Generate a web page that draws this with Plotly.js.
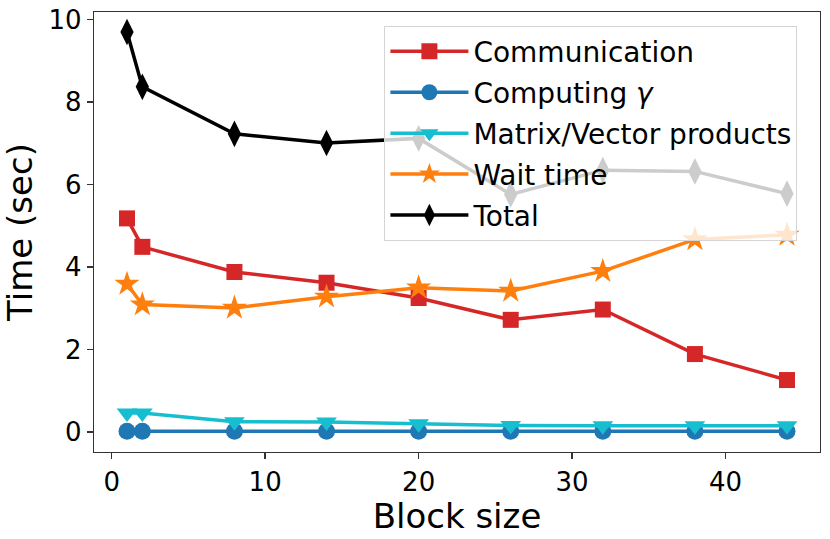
<!DOCTYPE html>
<html>
<head>
<meta charset="utf-8">
<script src="https://cdn.plot.ly/plotly-3.0.1.min.js"></script>
<style>html,body{margin:0;padding:0;background:#fff;}#chart{width:830px;height:539px;}</style>
</head>
<body>
<div id="chart"></div>
<script>
var blockSize = [1, 2, 8, 14, 20, 26, 32, 38, 44];
var communication = [5.18, 4.49, 3.88, 3.62, 3.25, 2.72, 2.97, 1.89, 1.26];
var computingGamma = [0.02, 0.02, 0.02, 0.02, 0.02, 0.02, 0.02, 0.02, 0.02];
var matVecProducts = [0.46, 0.46, 0.25, 0.24, 0.2, 0.16, 0.15, 0.15, 0.15];
var waitTime = [3.59, 3.09, 3.01, 3.28, 3.5, 3.42, 3.9, 4.67, 4.78];
var total = [9.7, 8.37, 7.23, 7.01, 7.12, 5.76, 6.35, 6.32, 5.78];
var xTicks = [0, 10, 20, 30, 40];
var yTicks = [0, 2, 4, 6, 8, 10];

function tr(name, y, color, symbol, size, grp) {
  return {
    x: blockSize, y: y, name: name, type: 'scatter', mode: 'lines+markers',
    legendgroup: grp,
    line: {color: color, width: 3.5},
    marker: {color: color, symbol: symbol, size: size, line: {width: 0}}
  };
}
var data = [
  tr('Communication', communication, '#d62728', 'square', 16, 'g1'),
  tr('Computing <i>γ</i>', computingGamma, '#1f77b4', 'circle', 17, 'g2'),
  tr('Matrix/Vector products', matVecProducts, '#17becf', 'triangle-down', 18, 'g3'),
  tr('Wait time', waitTime, '#ff7f0e', 'star', 19, 'g4'),
  tr('Total', total, '#000000', 'diamond-tall', 19, 'g5')
];
var axisCommon = {
  showgrid: false, zeroline: false, showline: true, mirror: true,
  linecolor: '#333', linewidth: 1.3, ticks: 'outside', ticklen: 6, tickwidth: 1.3,
  tickcolor: '#333', tickfont: {size: 26, color: '#000'}
};
var layout = {
  width: 830, height: 539,
  margin: {l: 94, r: 10, t: 12, b: 87},
  paper_bgcolor: '#fff', plot_bgcolor: '#fff',
  font: {family: 'DejaVu Sans', color: '#000'},
  showlegend: true,
  xaxis: Object.assign({}, axisCommon, {
    range: [-1.15, 46.15], tickvals: xTicks, ticktext: xTicks.map(String),
    title: {text: 'Block size', font: {size: 34}, standoff: 0}
  }),
  yaxis: Object.assign({}, axisCommon, {
    range: [-0.485, 10.185], tickvals: yTicks, ticktext: yTicks.map(String),
    title: {text: 'Time (sec)', font: {size: 34}, standoff: 12}
  }),
  legend: {
    x: 0.4, y: 0.969, xanchor: 'left', yanchor: 'top',
    bgcolor: 'rgba(255,255,255,0.8)', bordercolor: '#d5d5d5', borderwidth: 1,
    font: {size: 28, color: '#000'}, itemwidth: 78, tracegroupgap: 1.5
  }
};
Plotly.newPlot('chart', data, layout, {displayModeBar: false, staticPlot: true});
</script>
</body>
</html>
